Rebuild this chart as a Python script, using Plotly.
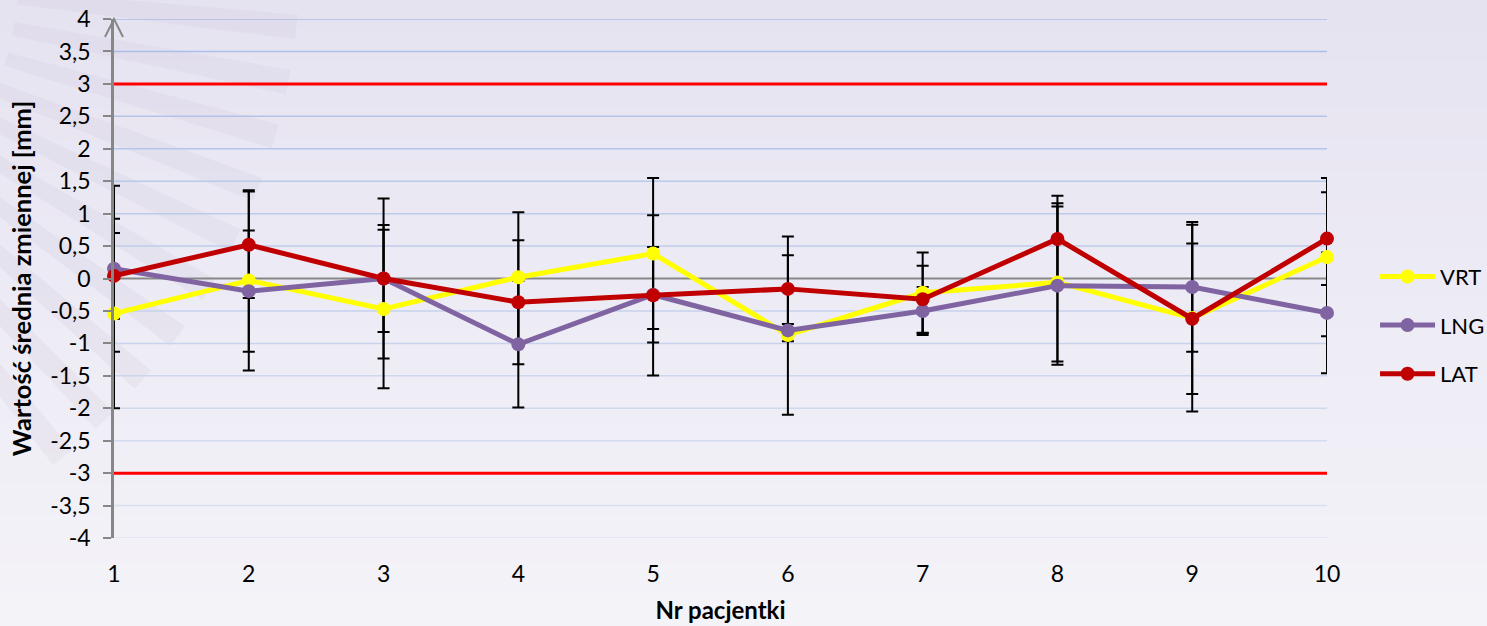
import math
import plotly.graph_objects as go

# Patient numbers and per-axis mean deviation with standard deviation [mm]
patients = [1, 2, 3, 4, 5, 6, 7, 8, 9, 10]

vrt_mean = [-0.54, -0.03, -0.47, 0.02, 0.385, -0.87, -0.22, -0.06, -0.61, 0.33]
vrt_sd = [1.46, 1.39, 1.22, 1.00, 1.165, 1.23, 0.62, 1.22, 1.44, 1.22]

lng_mean = [0.15, -0.195, 0.0, -1.015, -0.25, -0.80, -0.50, -0.11, -0.13, -0.53]
lng_sd = [1.28, 0.935, 1.235, 0.975, 0.735, 0.10, 0.37, 1.22, 1.00, 0.93]

lat_mean = [0.04, 0.52, 0.0, -0.365, -0.26, -0.16, -0.32, 0.61, -0.62, 0.615]
lat_sd = [0.66, 0.82, 0.825, 0.955, 1.235, 0.806, 0.515, 0.667, 1.16, 0.715]

# Tolerance limits
tolerance = [3, -3]

y_ticks = [-4, -3.5, -3, -2.5, -2, -1.5, -1, -0.5, 0, 0.5, 1, 1.5, 2, 2.5, 3, 3.5, 4]
y_tick_labels = ["-4", "-3,5", "-3", "-2,5", "-2", "-1,5", "-1", "-0,5", "0",
                 "0,5", "1", "1,5", "2", "2,5", "3", "3,5", "4"]
x_tick_labels = [str(p) for p in patients]

series = [
    ("VRT", vrt_mean, vrt_sd, "#FFFF00"),
    ("LNG", lng_mean, lng_sd, "#8064A2"),
    ("LAT", lat_mean, lat_sd, "#C00000"),
]

FONT = "Lato"
W, H = 1487, 626
ML, MR, MT, MB = 114, 160, 19, 88
PW, PH = W - ML - MR, H - MT - MB

fig = go.Figure()

# Error bars first so every marker sits above them
for name, mean, sd, color in series:
    fig.add_trace(go.Scatter(
        x=patients, y=mean, mode="markers",
        marker=dict(size=1, color="rgba(0,0,0,0)"),
        error_y=dict(type="data", array=sd, visible=True,
                     color="black", thickness=2, width=6),
        showlegend=False, hoverinfo="skip", cliponaxis=False,
    ))

for name, mean, sd, color in series:
    fig.add_trace(go.Scatter(
        x=patients, y=mean, mode="lines+markers", name=name,
        line=dict(color=color, width=5),
        marker=dict(color=color, size=14),
        legendgroup=name, cliponaxis=False,
    ))

shapes = []


def to_paper(px, py):
    return ((px - ML) / PW, (H - MB - py) / PH)


# Vertical background gradient (lavender to near-white)
top = (230, 227, 241)
bot = (244, 243, 248)
n_bands = 40
for k in range(n_bands):
    t = k / (n_bands - 1)
    c = tuple(round(top[j] + (bot[j] - top[j]) * t) for j in range(3))
    _, ya = to_paper(0, k * H / n_bands - 1)
    _, yb = to_paper(0, (k + 1) * H / n_bands + 1)
    xa, _ = to_paper(-2, 0)
    xb, _ = to_paper(W + 2, 0)
    shapes.append(dict(
        type="rect", xref="paper", yref="paper", layer="below",
        x0=xa, x1=xb, y0=yb, y1=ya,
        fillcolor="rgb(%d,%d,%d)" % c, line=dict(width=0),
    ))

# Faint decorative rays in the upper-left corner
cx, cy = -340, -40
for ang in [6, 11, 16, 21, 26, 31, 36, 41, 46, 51]:
    a0 = math.radians(ang - 1.1)
    a1 = math.radians(ang + 1.1)
    r0, r1 = 360, 640
    pts = [(cx + r0 * math.cos(a0), cy + r0 * math.sin(a0)),
           (cx + r1 * math.cos(a0), cy + r1 * math.sin(a0)),
           (cx + r1 * math.cos(a1), cy + r1 * math.sin(a1)),
           (cx + r0 * math.cos(a1), cy + r0 * math.sin(a1))]
    pp = [to_paper(x, y) for x, y in pts]
    path = "M " + " L ".join("%.4f,%.4f" % p for p in pp) + " Z"
    shapes.append(dict(type="path", xref="paper", yref="paper", layer="below",
                       path=path, fillcolor="rgba(165,160,190,0.09)",
                       line=dict(width=0)))

# Horizontal gridlines, fading toward the bottom
for v in y_ticks:
    if v == 0 or v in tolerance:
        continue
    t = (4 - v) / 8
    c0 = (168, 189, 230)
    c1 = (220, 226, 241)
    c = tuple(round(c0[j] + (c1[j] - c0[j]) * t) for j in range(3))
    shapes.append(dict(type="line", xref="x", yref="y", layer="below",
                       x0=patients[0], x1=patients[-1], y0=v, y1=v,
                       line=dict(color="rgb(%d,%d,%d)" % c, width=1.5)))

# Tolerance limits
for v in tolerance:
    shapes.append(dict(type="line", xref="x", yref="y", layer="below",
                       x0=patients[0], x1=patients[-1], y0=v, y1=v,
                       line=dict(color="#FF0000", width=3)))

# Zero line
shapes.append(dict(type="line", xref="x", yref="y", layer="below",
                   x0=patients[0], x1=patients[-1], y0=0, y1=0,
                   line=dict(color="#878787", width=2)))

# Open arrow head on top of the value axis
shapes.append(dict(type="path", xref="paper", yref="paper",
                   xsizemode="pixel", ysizemode="pixel",
                   xanchor=0, yanchor=1,
                   path="M -9,-18 L 0,0 L 9,-18",
                   line=dict(color="#878787", width=2)))

fig.update_layout(
    width=W, height=H,
    margin=dict(l=ML, r=MR, t=MT, b=MB, autoexpand=False),
    paper_bgcolor="#EEEDF5",
    plot_bgcolor="rgba(0,0,0,0)",
    font=dict(family=FONT, size=23, color="black"),
    shapes=shapes,
    showlegend=True,
    legend=dict(x=1.0396, y=0.41, xanchor="left", yanchor="middle",
                bgcolor="rgba(0,0,0,0)", font=dict(size=22),
                tracegroupgap=17, itemwidth=55),
    xaxis=dict(
        range=[patients[0], patients[-1]],
        tickvals=patients, ticktext=x_tick_labels,
        showgrid=False, zeroline=False, showline=False, automargin=False,
        ticks="", ticklabelstandoff=20, tickfont=dict(size=23),
        title=dict(text="<b>Nr pacjentki</b>", font=dict(size=24), standoff=16),
    ),
    yaxis=dict(
        range=[-4, 4],
        tickvals=y_ticks, ticktext=y_tick_labels, automargin=False,
        showgrid=False, zeroline=False, tickfont=dict(size=23),
        showline=True, linecolor="#878787", linewidth=2.5,
        ticks="outside", ticklen=8, tickcolor="#878787", tickwidth=2,
        ticklabelstandoff=8,
        title=dict(text="<b>Wartość średnia zmiennej [mm]</b>",
                   font=dict(size=25.5), standoff=12),
    ),
)

fig.write_html("out.html")
